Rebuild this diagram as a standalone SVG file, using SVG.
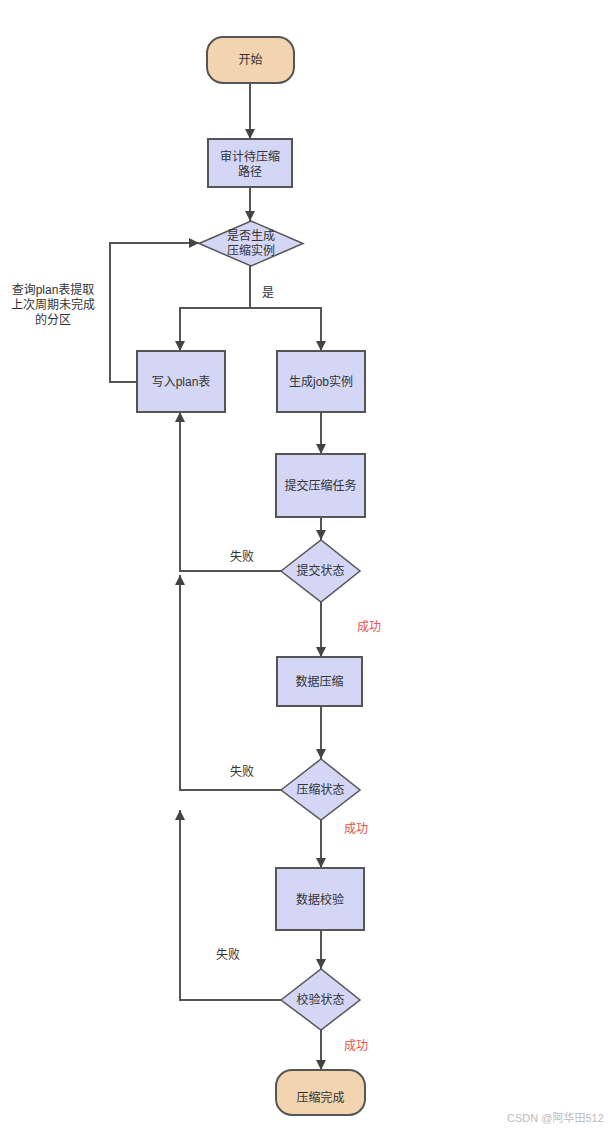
<svg xmlns="http://www.w3.org/2000/svg" width="612" height="1130" viewBox="0 0 612 1130">
<defs>
<marker id="arr" viewBox="0 0 10 10" refX="10" refY="5" markerWidth="10" markerHeight="10" markerUnits="userSpaceOnUse" orient="auto">
<path d="M0,0 L10,5 L0,10 z" fill="#444"/>
</marker>
<style>
.term{fill:#f2d4b0;stroke:#555;stroke-width:2}
.box{fill:#d4d6f6;stroke:#555;stroke-width:2}
.dia{fill:#d4d6f6;stroke:#555;stroke-width:1.5}
.t{font-family:"Liberation Sans","Noto Sans CJK SC",sans-serif;font-size:12px;fill:#333;text-anchor:middle;dominant-baseline:central}
.red{fill:#e5534b}
.wm{font-family:"Liberation Sans","Noto Sans CJK SC",sans-serif;font-size:11px;fill:#bbb}
.c{fill:none;stroke:#555;stroke-width:2}
</style>
</defs>
<rect width="612" height="1130" fill="#fff"/>
<g id="connectors">
<path class="c" d="M250,83 L250,139" marker-end="url(#arr)"/>
<path class="c" d="M250,187 L250,221" marker-end="url(#arr)"/>
<path class="c" d="M250,266 L250,308"/>
<path class="c" d="M250,308 L180,308 L180,351" marker-end="url(#arr)"/>
<path class="c" d="M250,308 L321,308 L321,351" marker-end="url(#arr)"/>
<path class="c" d="M137,382 L110,382 L110,243 L199,243" marker-end="url(#arr)"/>
<path class="c" d="M321,412 L321,454" marker-end="url(#arr)"/>
<path class="c" d="M321,517 L321,540" marker-end="url(#arr)"/>
<path class="c" d="M281,571 L180,571 L180,412" marker-end="url(#arr)"/>
<path class="c" d="M321,602 L321,657" marker-end="url(#arr)"/>
<path class="c" d="M321,706 L321,759" marker-end="url(#arr)"/>
<path class="c" d="M281,790 L180,790 L180,575" marker-end="url(#arr)"/>
<path class="c" d="M321,820 L321,868" marker-end="url(#arr)"/>
<path class="c" d="M321,930 L321,969" marker-end="url(#arr)"/>
<path class="c" d="M281,1000 L180,1000 L180,810" marker-end="url(#arr)"/>
<path class="c" d="M321,1030 L321,1070" marker-end="url(#arr)"/>
<text class="t" x="268" y="293">是</text>
<text class="t" x="53" y="290">查询plan表提取</text>
<text class="t" x="53" y="305">上次周期未完成</text>
<text class="t" x="53" y="320">的分区</text>
<text class="t" x="242" y="557">失败</text>
<text class="t red" x="369" y="627">成功</text>
<text class="t" x="242" y="772">失败</text>
<text class="t red" x="356" y="829">成功</text>
<text class="t" x="228" y="955">失败</text>
<text class="t red" x="356" y="1046">成功</text>
</g>
<g id="start">
<rect class="term" x="207" y="37" width="87" height="46" rx="16"/>
<text class="t" x="250.5" y="60">开始</text>
</g>
<g id="audit">
<rect class="box" x="208" y="139" width="84" height="48"/>
<text class="t" x="250" y="157">审计待压缩</text>
<text class="t" x="250" y="172">路径</text>
</g>
<g id="decide">
<polygon class="dia" points="199,243.5 251,221 303,243.5 251,266"/>
<text class="t" x="251" y="236">是否生成</text>
<text class="t" x="251" y="251">压缩实例</text>
</g>
<g id="writeplan">
<rect class="box" x="137" y="351" width="88" height="61"/>
<text class="t" x="181" y="382">写入plan表</text>
</g>
<g id="genjob">
<rect class="box" x="277" y="351" width="88" height="61"/>
<text class="t" x="321" y="382">生成job实例</text>
</g>
<g id="submit">
<rect class="box" x="276" y="454" width="89" height="63"/>
<text class="t" x="320.5" y="486">提交压缩任务</text>
</g>
<g id="submitstate">
<polygon class="dia" points="281,571 321,540 360,571 321,602"/>
<text class="t" x="320.5" y="571">提交状态</text>
</g>
<g id="compress">
<rect class="box" x="277" y="657" width="85" height="49"/>
<text class="t" x="319.5" y="682">数据压缩</text>
</g>
<g id="compressstate">
<polygon class="dia" points="281,790 321,759 360,790 321,820"/>
<text class="t" x="320.5" y="790">压缩状态</text>
</g>
<g id="verify">
<rect class="box" x="276" y="868" width="88" height="62"/>
<text class="t" x="320" y="900">数据校验</text>
</g>
<g id="verifystate">
<polygon class="dia" points="281,1000 321,969 360,1000 321,1030"/>
<text class="t" x="320.5" y="1000">校验状态</text>
</g>
<g id="end">
<rect class="term" x="276" y="1070" width="89" height="45" rx="16"/>
<text class="t" x="320.5" y="1098">压缩完成</text>
</g>
<text class="wm" x="507" y="1122">CSDN @阿华田512</text>
</svg>
